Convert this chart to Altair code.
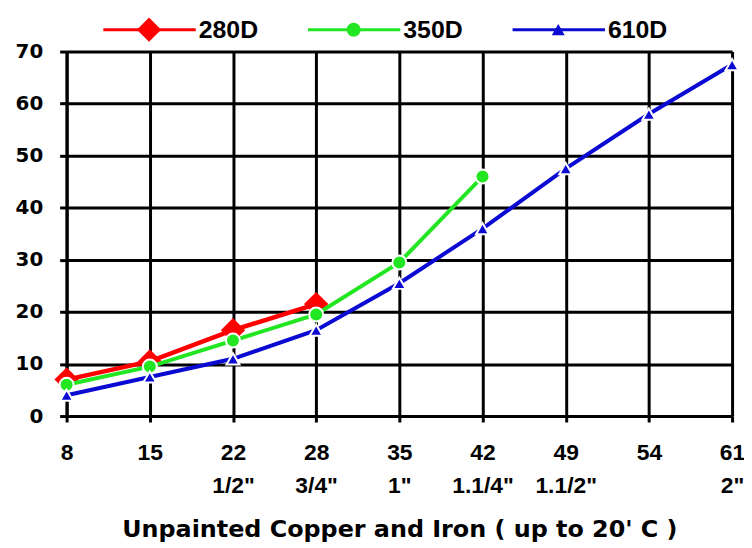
import altair as alt
import pandas as pd

# ---- data ----
mm_sizes = ["8", "15", "22", "28", "35", "42", "49", "54", "61"]
inch_sizes = ["", "", '1/2"', '3/4"', '1"', '1.1/4"', '1.1/2"', "", '2"']
series_names = ["280D", "350D", "610D"]
values_280 = [7.0, 10.5, 16.5, 21.5]
values_350 = [6.0, 9.5, 14.5, 19.5, 29.5, 46.0]
values_610 = [4.0, 7.5, 11.0, 16.5, 25.5, 36.0, 47.5, 58.0, 67.5]
y_ticks = [0, 10, 20, 30, 40, 50, 60, 70]
x_title = "Unpainted Copper and Iron ( up to 20' C )"

categories = [f"{m}|{i}" for m, i in zip(mm_sizes, inch_sizes)]

rows = []
for name, vals in zip(series_names, [values_280, values_350, values_610]):
    for cat, v in zip(categories, vals):
        rows.append({"series": name, "size": cat, "value": v})
df = pd.DataFrame(rows)
legend_df = pd.DataFrame({"series": series_names, "slot": [0, 1, 2]})

# ---- styles ----
colors = {"280D": "#ff0000", "350D": "#22e622", "610D": "#0a0ad2"}
markers = {
    "280D": dict(shape="diamond", size=600, strokeWidth=0),
    "350D": dict(shape="circle", size=200, stroke="white", strokeWidth=2),
    "610D": dict(shape="triangle-up", size=170, stroke="white", strokeWidth=2),
}
line_widths = {"280D": 4.5, "350D": 4, "610D": 4}

x_axis = alt.Axis(
    title=x_title,
    grid=True,
    labelExpr="split(datum.label, '|')",
    labelAngle=0,
    labelFont="Liberation Sans",
    labelFontSize=23,
    labelFontWeight="bold",
    labelColor="black",
    labelPadding=20,
    labelLineHeight=33,
    labelBaseline="top",
    tickSize=6,
    tickWidth=3,
    tickColor="black",
    domainColor="black",
    domainWidth=3,
    gridColor="black",
    gridWidth=3,
    gridOpacity=1,
    titleFont="DejaVu Sans",
    titleFontSize=24,
    titleFontWeight="bold",
    titleColor="black",
    titleBaseline="alphabetic",
    titleY=121,
)
y_axis = alt.Axis(
    values=y_ticks,
    title=None,
    grid=True,
    labelFont="DejaVu Sans",
    labelFontSize=20,
    labelFontWeight="bold",
    labelColor="black",
    labelPadding=17,
    tickSize=7,
    tickWidth=3,
    tickColor="black",
    domainColor="black",
    domainWidth=3,
    gridColor="black",
    gridWidth=3,
    gridOpacity=1,
)

base = alt.Chart(df).encode(
    x=alt.X("size:N", scale=alt.Scale(type="point", domain=categories, padding=0), axis=x_axis),
    y=alt.Y("value:Q", scale=alt.Scale(domain=[0, 70], nice=False), axis=y_axis),
)

main_layers = []
for s in series_names:
    sub = base.transform_filter(alt.datum.series == s)
    main_layers.append(sub.mark_line(color=colors[s], strokeWidth=line_widths[s]))
    main_layers.append(sub.mark_point(filled=True, color=colors[s], opacity=1, **markers[s]))
main = alt.layer(*main_layers)

leg_x = alt.X("slot:Q", scale=alt.Scale(domain=[0, 2], range=[83, 495]), axis=None)
leg_base = alt.Chart(legend_df).encode(x=leg_x, y=alt.value(-22))
legend_layers = []
for s in series_names:
    sub = leg_base.transform_filter(alt.datum.series == s)
    legend_layers.append(
        sub.mark_rule(color=colors[s], strokeWidth=3, xOffset=-46, x2Offset=47).encode(x2="slot:Q")
    )
    mk = dict(markers[s])
    mk.pop("stroke", None)
    mk["strokeWidth"] = 0
    legend_layers.append(sub.mark_point(filled=True, color=colors[s], opacity=1, **mk))
    legend_layers.append(
        sub.mark_text(
            align="left",
            baseline="middle",
            dx=50,
            font="Liberation Sans",
            fontSize=25,
            fontWeight="bold",
            color="black",
        ).encode(text="series:N")
    )
legend = alt.layer(*legend_layers)

chart = (
    alt.layer(main, legend)
    .resolve_scale(x="independent")
    .properties(
        width=670,
        height=367,
        autosize=alt.AutoSizeParams(type="none"),
        padding={"left": 59, "top": 42, "right": 12, "bottom": 130},
    )
    .configure_view(stroke=None)
    .configure(background="white")
)

chart.save("out.html", embed_options={"renderer": "svg", "actions": False})
